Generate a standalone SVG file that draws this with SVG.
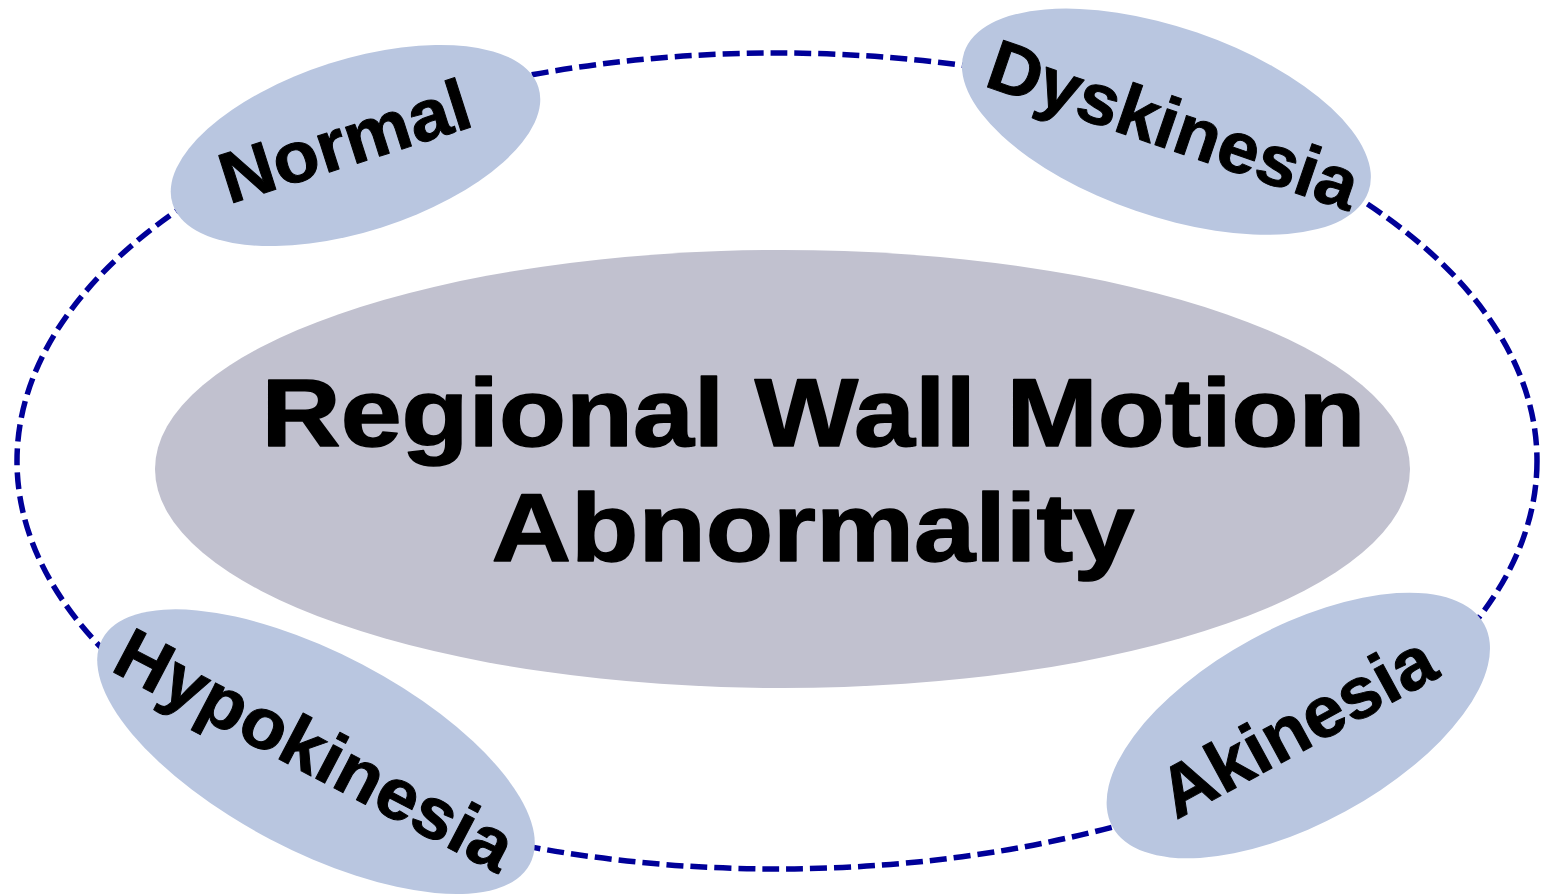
<svg xmlns="http://www.w3.org/2000/svg" width="1544" height="895" viewBox="0 0 1544 895">
<style>
.ring{fill:none;stroke:#000099;stroke-width:5.5;stroke-dasharray:17 7}
.node{fill:#b9c6e0}
.center{fill:#c1c1cf}
.lbl{font-family:"Liberation Sans",Arial,sans-serif;font-weight:bold;font-size:72px;fill:#000;stroke:#000;stroke-width:1;stroke-linejoin:round;text-anchor:middle}
.title{font-family:"Liberation Sans",Arial,sans-serif;font-weight:bold;font-size:97px;fill:#000;stroke:#000;stroke-width:1.5;stroke-linejoin:round;text-anchor:middle}
</style>
<rect width="1544" height="895" fill="#fff"/>
<g id="connectors">
<ellipse class="ring" cx="777" cy="461" rx="760" ry="408"/>
</g>
<g id="center">
<ellipse class="center" cx="782.5" cy="469" rx="627.5" ry="219"/>
<text class="title" x="813.5" y="446" textLength="1104" lengthAdjust="spacingAndGlyphs">Regional Wall Motion</text>
<text class="title" x="813" y="561" textLength="643" lengthAdjust="spacingAndGlyphs">Abnormality</text>
</g>
<g id="normal" transform="translate(355.5 145.5) rotate(-17.7)">
<ellipse class="node" cx="0" cy="0" rx="192" ry="86"/>
<text class="lbl" x="-9" y="17.5" textLength="259" lengthAdjust="spacingAndGlyphs">Normal</text>
</g>
<g id="dyskinesia" transform="translate(1166.4 121.7) rotate(19)">
<ellipse class="node" cx="0" cy="0" rx="213.8" ry="94.3"/>
<text class="lbl" x="8" y="25.5" textLength="387" lengthAdjust="spacingAndGlyphs">Dyskinesia</text>
</g>
<g id="hypokinesia" transform="translate(316 751.7) rotate(27.7)">
<ellipse class="node" cx="0" cy="0" rx="241.6" ry="98.8"/>
<text class="lbl" x="-1.5" y="23.8" textLength="439" lengthAdjust="spacingAndGlyphs">Hypokinesia</text>
</g>
<g id="akinesia" transform="translate(1298.3 725.5) rotate(-28.55)">
<ellipse class="node" cx="0" cy="0" rx="211.6" ry="98"/>
<text class="lbl" x="-1.3" y="24.7" textLength="302" lengthAdjust="spacingAndGlyphs">Akinesia</text>
</g>
</svg>
